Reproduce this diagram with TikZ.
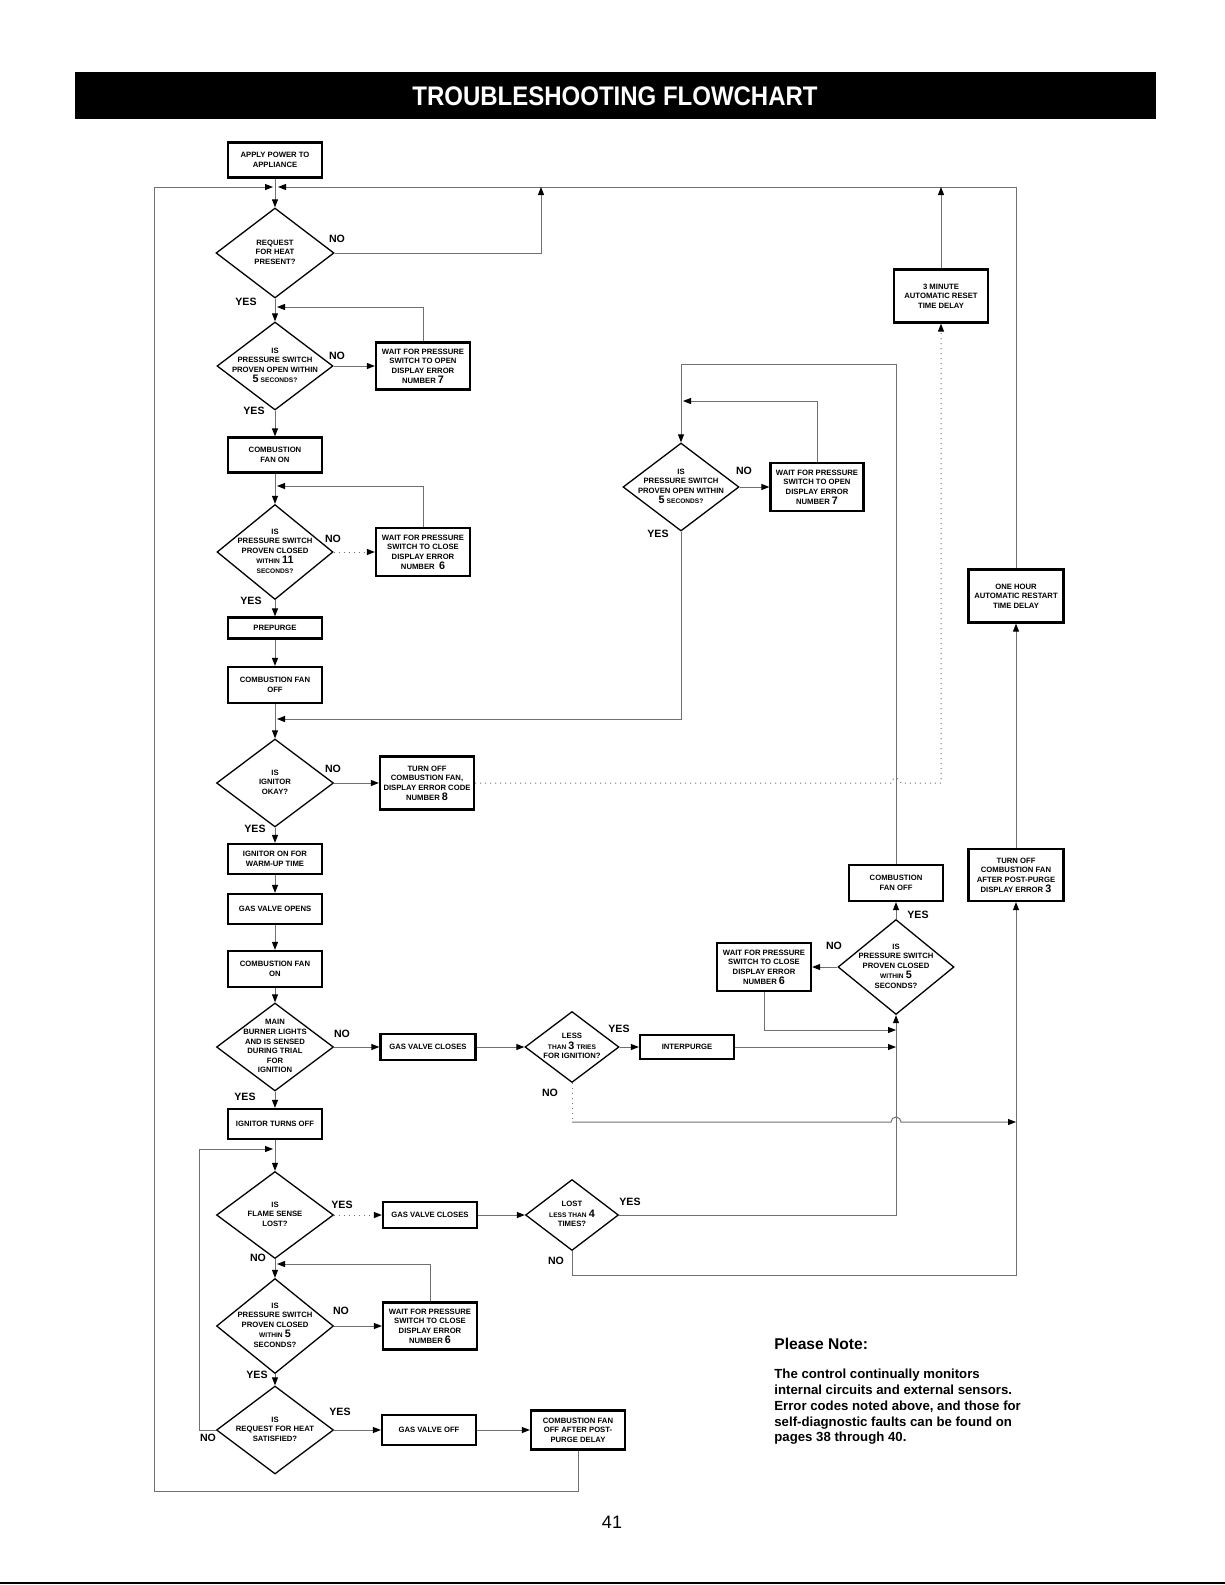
\documentclass[tikz,border=0pt]{standalone}
\usepackage{fontspec}
\setmainfont{Liberation Sans}
\usetikzlibrary{shapes.geometric,arrows.meta}

\newcommand{\boxfont}{\fontsize{3.85}{4.8}\selectfont\bfseries}
\newcommand{\answerfont}{\fontsize{5.3}{6}\selectfont\bfseries}
\newcommand{\titlefont}{\fontsize{12}{14}\selectfont\bfseries}
\newcommand{\bigno}[1]{{\fontsize{5.4}{4.8}\selectfont #1}}
\newcommand{\smallw}[1]{{\fontsize{3.3}{4.8}\selectfont #1}}
\newcommand{\dtext}[1]{\makebox[0pt]{\begin{tabular}{@{}c@{}}#1\end{tabular}}}

\begin{document}
\begin{tikzpicture}[x=0.5pt, y=-0.5pt,
        actbox/.style={draw, line width=1.1pt, minimum width=47pt, inner sep=1pt,
            align=center, font=\boxfont},
        decision/.style={draw, diamond, inner sep=0pt, line width=0.65pt, font=\boxfont},
        link/.style={draw=linegray, line width=0.5pt,
            -{Triangle[length=4pt, width=3pt, color=black]}},
        wire/.style={draw=linegray, line width=0.5pt},
        answer/.style={font=\answerfont, inner sep=0pt}]
    % -- colour definitions --------------------------------------------------
    \definecolor{linegray}{RGB}{112,112,112}

    \useasboundingbox (0,0) rectangle (1225,1585);

    % -- title bar -----------------------------------------------------------
    \fill[black] (75,72) rectangle (1156,119);
    \node[text=white, font=\titlefont] (title) at (615,96)
        {\scalebox{1}[1.12]{TROUBLESHOOTING FLOWCHART}};

    % -- main column ---------------------------------------------------------
    \node[actbox, minimum height=17.5pt] (power) at (275,160) {APPLY POWER TO\\APPLIANCE};
    \node[decision, minimum width=59pt, minimum height=45pt] (q1) at (275,253)
        {\dtext{REQUEST\\FOR HEAT\\PRESENT?}};
    \node[decision, minimum width=58pt, minimum height=44pt] (q2) at (275,366)
        {\dtext{IS\\PRESSURE SWITCH\\PROVEN OPEN WITHIN\\\bigno{5} \smallw{SECONDS?}}};
    \node[actbox, minimum height=17.5pt] (fanon1) at (275,455) {COMBUSTION\\FAN ON};
    \node[decision, minimum width=58pt, minimum height=47.5pt] (q3) at (275,552)
        {\dtext{IS\\PRESSURE SWITCH\\PROVEN CLOSED\\\smallw{WITHIN} \bigno{11}\\\smallw{SECONDS?}}};
    \node[actbox, minimum height=10.5pt] (prepurge) at (275,628) {PREPURGE};
    \node[actbox, minimum height=18pt] (fanoff1) at (275,685) {COMBUSTION FAN\\OFF};
    \node[decision, minimum width=58.5pt, minimum height=44pt] (q4) at (275,783)
        {\dtext{IS\\IGNITOR\\OKAY?}};
    \node[actbox, minimum height=15pt] (ignon) at (275,859) {IGNITOR ON FOR\\WARM-UP TIME};
    \node[actbox, minimum height=15pt] (gasopen) at (275,909) {GAS VALVE OPENS};
    \node[actbox, minimum height=18pt] (fanon2) at (275,969) {COMBUSTION FAN\\ON};
    \node[decision, minimum width=58.5pt, minimum height=44pt] (q5) at (275,1047)
        {\dtext{MAIN\\BURNER LIGHTS\\AND IS SENSED\\DURING TRIAL\\FOR\\IGNITION}};
    \node[actbox, minimum height=15pt] (ignoff) at (275,1124) {IGNITOR TURNS OFF};
    \node[decision, minimum width=58.5pt, minimum height=43.5pt] (q7) at (275,1215)
        {\dtext{IS\\FLAME SENSE\\LOST?}};
    \node[decision, minimum width=58.5pt, minimum height=47.5pt] (q9) at (275,1326)
        {\dtext{IS\\PRESSURE SWITCH\\PROVEN CLOSED\\\smallw{WITHIN} \bigno{5}\\SECONDS?}};
    \node[decision, minimum width=58.5pt, minimum height=44pt] (q10) at (275,1430)
        {\dtext{IS\\REQUEST FOR HEAT\\SATISFIED?}};

    % -- side boxes, left half -----------------------------------------------
    \node[actbox, minimum height=23.5pt] (w7a) at (423,366)
        {WAIT FOR PRESSURE\\SWITCH TO OPEN\\DISPLAY ERROR\\NUMBER \bigno{7}};
    \node[actbox, minimum height=24pt] (w6a) at (423,552)
        {WAIT FOR PRESSURE\\SWITCH TO CLOSE\\DISPLAY ERROR\\NUMBER\ \ \bigno{6}};
    \node[actbox, minimum height=26.5pt] (err8) at (427,783)
        {TURN OFF\\COMBUSTION FAN,\\DISPLAY ERROR CODE\\NUMBER \bigno{8}};
    \node[actbox, minimum width=47.5pt, minimum height=13pt] (gasclose1) at (428,1047) {GAS VALVE CLOSES};
    \node[decision, minimum width=47pt, minimum height=35.5pt] (q6) at (572,1047)
        {\dtext{LESS\\\smallw{THAN} \bigno{3} \smallw{TRIES}\\FOR IGNITION?}};
    \node[actbox, minimum height=12pt] (interpurge) at (687,1047) {INTERPURGE};
    \node[actbox, minimum height=13pt] (gasclose2) at (430,1215) {GAS VALVE CLOSES};
    \node[decision, minimum width=46.5pt, minimum height=35.5pt] (q8) at (572,1215)
        {\dtext{LOST\\\smallw{LESS THAN} \bigno{4}\\TIMES?}};
    \node[actbox, minimum height=23.5pt] (w6c) at (430,1326)
        {WAIT FOR PRESSURE\\SWITCH TO CLOSE\\DISPLAY ERROR\\NUMBER \bigno{6}};
    \node[actbox, minimum height=15pt] (gasoff) at (429,1430) {GAS VALVE OFF};
    \node[actbox, minimum height=19.5pt] (postpurge) at (578,1430)
        {COMBUSTION FAN\\OFF AFTER POST-\\PURGE DELAY};

    % -- right half ----------------------------------------------------------
    \node[decision, minimum width=58pt, minimum height=44pt] (q11) at (681,487)
        {\dtext{IS\\PRESSURE SWITCH\\PROVEN OPEN WITHIN\\\bigno{5} \smallw{SECONDS?}}};
    \node[actbox, minimum width=46.5pt, minimum height=24pt] (w7b) at (817,487)
        {WAIT FOR PRESSURE\\SWITCH TO OPEN\\DISPLAY ERROR\\NUMBER \bigno{7}};
    \node[actbox, minimum height=26.5pt] (reset3) at (941,296)
        {3 MINUTE\\AUTOMATIC RESET\\TIME DELAY};
    \node[actbox, minimum height=18pt] (fanoff2) at (896,883) {COMBUSTION\\FAN OFF};
    \node[decision, minimum width=58pt, minimum height=47.5pt] (q12) at (896,967)
        {\dtext{IS\\PRESSURE SWITCH\\PROVEN CLOSED\\\smallw{WITHIN} \bigno{5}\\SECONDS?}};
    \node[actbox, minimum height=24pt] (w6b) at (764,967)
        {WAIT FOR PRESSURE\\SWITCH TO CLOSE\\DISPLAY ERROR\\NUMBER \bigno{6}};
    \node[actbox, minimum width=47.5pt, minimum height=26.5pt] (hour1) at (1016,596)
        {ONE HOUR\\AUTOMATIC RESTART\\TIME DELAY};
    \node[actbox, minimum width=47.5pt, minimum height=26pt] (err3) at (1016,875)
        {TURN OFF\\COMBUSTION FAN\\AFTER POST-PURGE\\DISPLAY ERROR \bigno{3}};

    % -- bend points ---------------------------------------------------------
    \foreach \n/\px/\py in {joinl/273/187, joinr/278/187, noheat/541/187,
            fbopen/277/307, fbclose/277/486, mergein/277/719, q11up/681/364,
            fbopen2/683/401, jumpa/891/783, q6down/572/1122, jumpb/891/1122,
            w6bin/896/1030, lowright/1016/1275, backtop/199/1149, backin/273/1149,
            fbclose2/277/1264, loopbl/154/1491}
        \coordinate (\n) at (\px,\py);

    % -- straight connectors -------------------------------------------------
    \foreach \a/\b in {power/q1, q1/q2, q2/fanon1, fanon1/q3, q3/prepurge,
            prepurge/fanoff1, fanoff1/q4, q4/ignon, ignon/gasopen, gasopen/fanon2,
            fanon2/q5, q5/ignoff, ignoff/q7, q7/q9, q9/q10, q2/w7a, q4/err8,
            q5/gasclose1, gasclose1/q6, q6/interpurge, gasclose2/q8, q9/w6c,
            q10/gasoff, gasoff/postpurge, q11/w7b, q12/w6b, q12/fanoff2, err3/hour1}
        \draw[link] (\a) -- (\b);
    \foreach \a/\b in {q3/w6a, q7/gasclose2}
        \draw[link, dotted] (\a) -- (\b);

    % -- returns and loops ---------------------------------------------------
    \draw[link] (postpurge.south) |- (loopbl) |- (joinl);
    \draw[link] (hour1.north) |- (joinr);
    \draw[link] (q1.east) -| (noheat);
    \draw[link] (reset3.north) -- (reset3.north |- joinr);
    \draw[link] (w7a.north) |- (fbopen);
    \draw[link] (w6a.north) |- (fbclose);
    \draw[link] (w6c.north) |- (fbclose2);
    \draw[link] (w7b.north) |- (fbopen2);
    \draw[link] (q11.south) |- (mergein);
    \draw[link] (fanoff2.north) |- (q11up) -- (q11.north);
    \draw[link, dotted] (err8.east) -- (jumpa)
        arc[start angle=180, end angle=0, radius=2.5pt]
        -- (reset3.south |- err8.east) -- (reset3.south);
    \draw[wire, dotted] (q6.south) -- (q6down);
    \draw[link] (q6down) -- (jumpb)
        arc[start angle=180, end angle=0, radius=2.5pt] -- (err3.south |- q6down);
    \draw[link] (interpurge.east) -- (interpurge.east -| q12.south);
    \draw[link] (w6b.south) |- (w6bin);
    \draw[link] (q8.east) -| (q12.south);
    \draw[link] (q8.south) |- (lowright) -- (err3.south);
    \draw[link] (q10.west) -| (backtop) -- (backin);

    % -- yes / no labels -----------------------------------------------------
    \foreach \n/\px/\py/\t in {q1no/337/239/NO, q1yes/246/302/YES,
            q2no/337/356/NO, q2yes/254/411/YES, q3no/333/539/NO, q3yes/251/601/YES,
            q4no/333/769/NO, q4yes/255/829/YES, q5no/342/1034/NO, q5yes/245/1097/YES,
            q6yes/619/1029/YES, q6no/550/1093/NO, q11no/744/471/NO, q11yes/658/534/YES,
            q12yes/918/915/YES, q12no/834/946/NO, q7yes/342/1205/YES, q7no/258/1258/NO,
            q8yes/630/1202/YES, q8no/556/1261/NO, q9no/341/1311/NO, q9yes/257/1375/YES,
            q10yes/340/1412/YES, q10no/208/1438/NO}
        \node[answer] (\n) at (\px,\py) {\t};

    % -- note and page number ------------------------------------------------
    \node[anchor=west, inner sep=0pt, font=\fontsize{7.8}{9}\selectfont\bfseries]
        (notehead) at (774,1344) {Please Note:};
    \node[anchor=north west, inner sep=0pt, align=left,
        font=\fontsize{6.6}{7.85}\selectfont\bfseries] (notebody) at (774,1369)
        {The control continually monitors\\internal circuits and external sensors.\\
         Error codes noted above, and those for\\self-diagnostic faults can be found on\\
         pages 38 through 40.};
    \node[font=\fontsize{9}{10}\selectfont] (pagenum) at (612,1522) {41};
    \draw[line width=1pt] (0,1583) -- (1225,1583);
\end{tikzpicture}
\end{document}
